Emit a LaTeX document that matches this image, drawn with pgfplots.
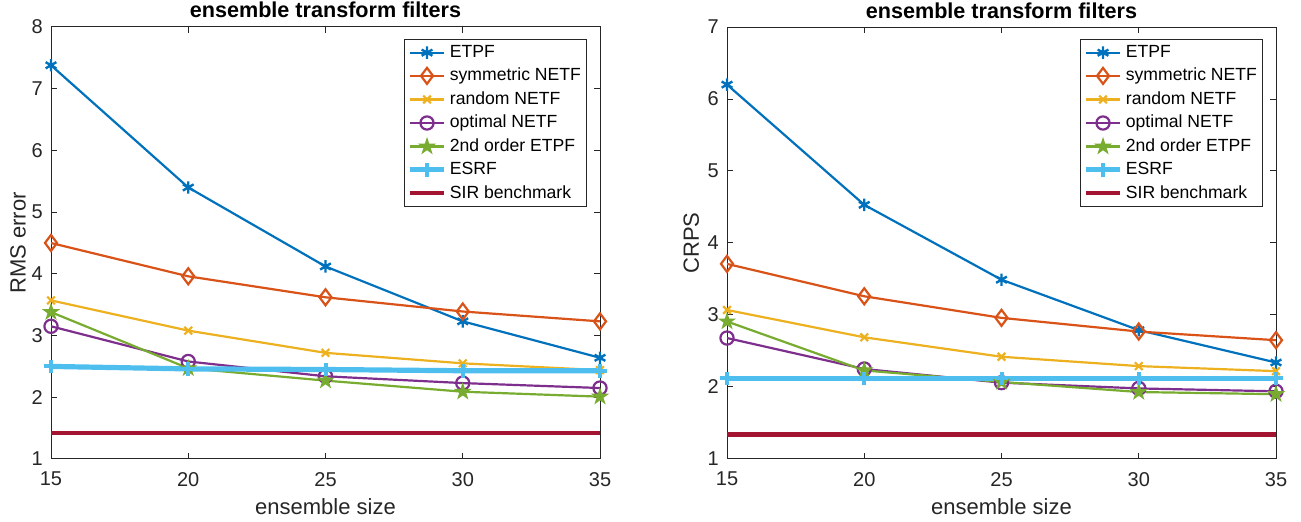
\documentclass[border=0pt]{standalone}
\usepackage{fontspec}
\setmainfont{Liberation Sans}
\usepackage{pgfplots}
\pgfplotsset{compat=1.18}
\usetikzlibrary{plotmarks}

\definecolor{c1}{rgb}{0,0.447,0.741}
\definecolor{c2}{rgb}{0.850,0.325,0.098}
\definecolor{c3}{rgb}{0.929,0.694,0.125}
\definecolor{c4}{rgb}{0.494,0.184,0.556}
\definecolor{c5}{rgb}{0.466,0.674,0.188}
\definecolor{c6}{rgb}{0.301,0.745,0.933}
\definecolor{c7}{rgb}{0.635,0.078,0.184}
\definecolor{axgray}{rgb}{0.15,0.15,0.15}

% MATLAB-like pentagram outline
\pgfdeclareplotmark{pent}{%
  \pgfpathmoveto{\pgfqpointpolar{90}{\pgfplotmarksize}}%
  \pgfpathlineto{\pgfqpointpolar{234}{\pgfplotmarksize}}%
  \pgfpathlineto{\pgfqpointpolar{18}{\pgfplotmarksize}}%
  \pgfpathlineto{\pgfqpointpolar{162}{\pgfplotmarksize}}%
  \pgfpathlineto{\pgfqpointpolar{306}{\pgfplotmarksize}}%
  \pgfpathclose
  \pgfusepathqstroke}

\pgfplotsset{
  mlab/.style={
    scale only axis,
    width=274.5pt, height=216pt,
    xmin=15, xmax=35,
    xtick={15,20,25,30,35},
    tick align=inside,
    major tick length=3pt,
    axis line style={color=axgray, line width=0.5pt},
    tick style={color=axgray, line width=0.5pt},
    /pgf/number format/assume math mode=true,
    ticklabel style={font=\fontsize{10}{12}\selectfont, text=axgray},
    xticklabel style={yshift=-3pt},
    yticklabel style={xshift=-0.6pt},
    xlabel={ensemble size},
    every axis x label/.style={at={(axis description cs:0.5,0)}, anchor=center,
      yshift=-24pt, font=\fontsize{11}{13}\selectfont, text=axgray},
    every axis title/.style={at={(axis description cs:0.5,1)}, anchor=base,
      yshift=4.5pt, font=\bfseries\fontsize{10.8}{13}\selectfont},
    legend cell align=left,
    legend style={at={(1,1)}, anchor=north east, xshift=-6.5pt, yshift=-6pt,
      draw=axgray, line width=0.5pt, fill=white,
      font=\fontsize{8.8}{10}\selectfont,
      inner sep=1.2pt, row sep=0.7pt,
      nodes={inner sep=1.6pt}},
    every axis plot/.append style={line width=1.1pt},
  },
  etpf/.style={color=c1, mark=asterisk, mark size=3.1pt, mark options={line width=1.2pt}},
  symm/.style={color=c2, mark=diamond, mark size=4pt, mark options={line width=1.1pt}},
  rand/.style={color=c3, mark=x, mark size=2.7pt, mark options={line width=1.1pt}},
  opti/.style={color=c4, mark=o, mark size=3.3pt, mark options={line width=1.1pt}},
  sec/.style={color=c5, mark=pent, mark size=2.7pt, mark options={line width=1.3pt}},
  esrf/.style={color=c6, line width=2.6pt, mark=+, mark size=3.4pt, mark options={line width=2pt}},
  sir/.style={color=c7, line width=2.3pt, mark=none},
}

\begin{document}
\begin{tikzpicture}
\useasboundingbox (0,0) rectangle (650.5pt,261pt);

\begin{axis}[mlab, at={(25.5pt,31.5pt)}, anchor=south west,
  ymin=1, ymax=8, ytick={1,2,3,4,5,6,7,8},
  title={ensemble transform filters},
  ylabel={RMS error},
  every axis y label/.style={at={(axis description cs:-0.06,0.5)}, anchor=center,
    rotate=90, font=\fontsize{11}{13}\selectfont, text=axgray}]
\addplot[etpf] coordinates {(15,7.38) (20,5.40) (25,4.12) (30,3.23) (35,2.64)};
\addlegendentry{ETPF}
\addplot[symm] coordinates {(15,4.50) (20,3.96) (25,3.62) (30,3.39) (35,3.23)};
\addlegendentry{symmetric NETF}
\addplot[rand] coordinates {(15,3.57) (20,3.08) (25,2.72) (30,2.55) (35,2.44)};
\addlegendentry{random NETF}
\addplot[opti] coordinates {(15,3.15) (20,2.58) (25,2.34) (30,2.23) (35,2.15)};
\addlegendentry{optimal NETF}
\addplot[sec] coordinates {(15,3.38) (20,2.47) (25,2.27) (30,2.09) (35,2.01)};
\addlegendentry{2nd order ETPF}
\addplot[esrf] coordinates {(15,2.50) (20,2.46) (25,2.45) (30,2.43) (35,2.43)};
\addlegendentry{ESRF}
\addplot[sir] coordinates {(15,1.42) (35,1.42)};
\addlegendentry{SIR benchmark}
\end{axis}

\begin{axis}[mlab, at={(363.5pt,31.5pt)}, anchor=south west,
  ymin=1, ymax=7, ytick={1,2,3,4,5,6,7},
  title={ensemble transform filters},
  ylabel={CRPS},
  every axis y label/.style={at={(axis description cs:-0.065,0.5)}, anchor=center,
    rotate=90, font=\fontsize{11}{13}\selectfont, text=axgray}]
\addplot[etpf] coordinates {(15,6.20) (20,4.53) (25,3.49) (30,2.79) (35,2.34)};
\addlegendentry{ETPF}
\addplot[symm] coordinates {(15,3.71) (20,3.26) (25,2.96) (30,2.77) (35,2.65)};
\addlegendentry{symmetric NETF}
\addplot[rand] coordinates {(15,3.07) (20,2.69) (25,2.42) (30,2.29) (35,2.22)};
\addlegendentry{random NETF}
\addplot[opti] coordinates {(15,2.68) (20,2.25) (25,2.06) (30,1.98) (35,1.94)};
\addlegendentry{optimal NETF}
\addplot[sec] coordinates {(15,2.91) (20,2.23) (25,2.07) (30,1.93) (35,1.90)};
\addlegendentry{2nd order ETPF}
\addplot[esrf] coordinates {(15,2.12) (20,2.12) (25,2.12) (30,2.12) (35,2.12)};
\addlegendentry{ESRF}
\addplot[sir] coordinates {(15,1.34) (35,1.34)};
\addlegendentry{SIR benchmark}
\end{axis}
\end{tikzpicture}
\end{document}
